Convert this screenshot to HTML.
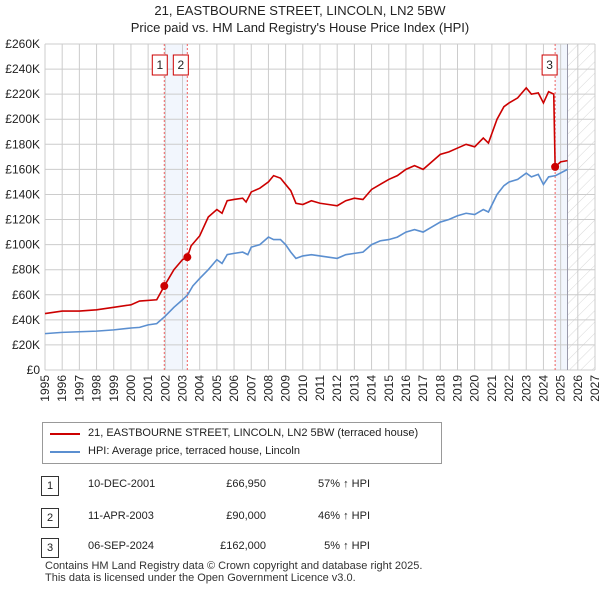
<!DOCTYPE html>
<html><head><meta charset="utf-8"><style>
body{margin:0;width:600px;height:590px;background:#fff;font-family:"Liberation Sans","DejaVu Sans",sans-serif;position:relative;overflow:hidden}
.t{position:absolute;font-size:12px;color:#222;white-space:nowrap}
</style></head><body>
<div class="t" style="left:0;width:600px;text-align:center;top:2px;font-size:13px;line-height:17px">21, EASTBOURNE STREET, LINCOLN, LN2 5BW<br>Price paid vs. HM Land Registry's House Price Index (HPI)</div>
<svg id="c" width="600" height="410" style="position:absolute;left:0;top:0"></svg>
<div style="position:absolute;left:42px;top:422px;width:398px;height:40px;border:1px solid #999"></div>
<svg width="600" height="590" style="position:absolute;left:0;top:0;pointer-events:none">
<line x1="50" y1="434" x2="80" y2="434" stroke="#cc0000" stroke-width="2"/>
<line x1="50" y1="452" x2="80" y2="452" stroke="#5b8fd0" stroke-width="2"/>
</svg>
<div class="t" style="left:88px;top:427px;font-size:11px">21, EASTBOURNE STREET, LINCOLN, LN2 5BW (terraced house)</div>
<div class="t" style="left:88px;top:445px;font-size:11px">HPI: Average price, terraced house, Lincoln</div>
<div id="tbl"></div>
<div class="t" style="left:45px;top:560px;font-size:11px;line-height:12px;color:#333">Contains HM Land Registry data © Crown copyright and database right 2025.<br>This data is licensed under the Open Government Licence v3.0.</div>
<script>
const hpiYears=[1995,1996,1997,1998,1999,2000,2000.5,2001,2001.5,2002,2002.5,2003,2003.3,2003.6,2004,2004.5,2005,2005.3,2005.6,2006,2006.5,2006.8,2007,2007.5,2008,2008.3,2008.7,2009,2009.3,2009.6,2010,2010.5,2011,2011.5,2012,2012.5,2013,2013.5,2014,2014.5,2015,2015.5,2016,2016.5,2017,2017.5,2018,2018.5,2019,2019.5,2020,2020.5,2020.8,2021.3,2021.7,2022,2022.5,2023,2023.3,2023.7,2024,2024.3,2024.7,2025.4];
const hpiValues=[29,30,30.5,31,32,33.5,34,36,37,43,50,56,60,67,73,80,88,85,92,93,94,92,98,100,106,104,104,100,94,89,91,92,91,90,89,92,93,94,100,103,104,106,110,112,110,114,118,120,123,125,124,128,126,140,147,150,152,157,154,156,148,154,155,160];
const priceYears=[1995,1996,1997,1998,1999,2000,2000.5,2001.5,2001.94,2002.5,2003,2003.28,2003.5,2004,2004.5,2005,2005.3,2005.6,2006,2006.5,2006.7,2007,2007.5,2008,2008.3,2008.7,2009,2009.3,2009.6,2010,2010.5,2011,2011.5,2012,2012.5,2013,2013.5,2014,2014.5,2015,2015.5,2016,2016.5,2017,2017.5,2018,2018.5,2019,2019.5,2020,2020.5,2020.8,2021.3,2021.7,2022,2022.5,2023,2023.3,2023.7,2024,2024.3,2024.6,2024.68,2025,2025.4];
const priceValues=[45,47,47,48,50,52,55,56,66.95,80,88,90,99,107,122,128,125,135,136,137,134,142,145,150,155,153,148,143,133,132,135,133,132,131,135,137,136,144,148,152,155,160,163,160,166,172,174,177,180,178,185,181,200,210,213,217,225,220,221,213,222,220,162,166,167];
const saleYears=[2001.94,2003.28,2024.68];
const saleValues=[66.95,90,162];
const saleLabels=["1","2","3"];
const saleDates=["10-DEC-2001","11-APR-2003","06-SEP-2024"];
const salePrices=["£66,950","£90,000","£162,000"];
const saleHpi=["57% ↑ HPI","46% ↑ HPI","5% ↑ HPI"];
const yTicks=[0,20,40,60,80,100,120,140,160,180,200,220,240,260];
const xTicks=[1995,1996,1997,1998,1999,2000,2001,2002,2003,2004,2005,2006,2007,2008,2009,2010,2011,2012,2013,2014,2015,2016,2017,2018,2019,2020,2021,2022,2023,2024,2025,2026,2027];
const X0=45,X1=595,Y0=370,Y1=44;
const xs=y=>X0+(y-1995)/(2027-1995)*(X1-X0);
const ys=v=>Y0-v/260*(Y0-Y1);
const NS="http://www.w3.org/2000/svg";
const svg=document.getElementById('c');
function mk(t,a,p){const e=document.createElementNS(NS,t);for(const k in a)e.setAttribute(k,a[k]);(p||svg).appendChild(e);return e;}
let defs=mk('defs',{});
let pat=mk('pattern',{id:'h',width:8,height:8,patternUnits:'userSpaceOnUse',patternTransform:'rotate(45)'},defs);
mk('line',{x1:0,y1:0,x2:0,y2:8,stroke:'#d8d8d8','stroke-width':1},pat);
let g=mk('g',{});


mk('rect',{x:xs(saleYears[0]),y:Y1,width:xs(saleYears[1])-xs(saleYears[0]),height:Y0-Y1,fill:'#f2f6fd'},g);
mk('rect',{x:xs(saleYears[2]),y:Y1,width:xs(2025.4)-xs(saleYears[2]),height:Y0-Y1,fill:'#f2f6fd'},g);
let hz=mk('rect',{x:xs(2025.4),y:Y1,width:X1-xs(2025.4),height:Y0-Y1,fill:'url(#h)'});


for(const v of yTicks){
 let l=mk('line',{x1:X0,x2:X1,y1:ys(v),y2:ys(v),stroke:'#ccc'});
 
 
 let t=mk('text',{x:X0-5,y:ys(v)+4,'text-anchor':'end','font-size':12,fill:'#222'});t.textContent='£'+(v?v+'K':'0');
 
 
}
for(const y of xTicks){
 let l=mk('line',{x1:xs(y),x2:xs(y),y1:Y1,y2:Y0,stroke:'#ccc'});
 
 
 let t=mk('text',{transform:`translate(${xs(y)+4},${Y0+5}) rotate(-90)`,'text-anchor':'end','font-size':12,fill:'#222'});t.textContent=y;
 
 
}
mk('line',{x1:xs(2025.4),x2:xs(2025.4),y1:Y1,y2:Y0,stroke:'#99a'});
saleYears.forEach((y,i)=>{
 let l=mk('line',{x1:xs(y),x2:xs(y),y1:Y1,y2:Y0,stroke:'#f06060','stroke-dasharray':'2,2'});
 
 
 let bx=i==2?xs(y)-13:(i==0?xs(y)-12:xs(y)-14);
 let r=mk('rect',{x:bx,y:55,width:15,height:20,fill:'#fff',stroke:'#cc0000'});
 
 
 let t=mk('text',{x:bx+7.5,y:69,'text-anchor':'middle','font-size':12,fill:'#222'});t.textContent=saleLabels[i];
});
function line(xa,va,col,name){
 let p=mk('polyline',{points:xa.map((x,i)=>xs(x)+','+ys(va[i])).join(' '),fill:'none',stroke:col,'stroke-width':1.6});
 
 
}
line(hpiYears,hpiValues,'#5b8fd0','hpi-line');
line(priceYears,priceValues,'#cc0000','price-line');
saleYears.forEach((y,i)=>{
 let c=mk('circle',{cx:xs(y),cy:ys(saleValues[i]),r:4,fill:'#cc0000'});
 
 
});
const tbl=document.getElementById('tbl');
const rowY=[484,516,546];
saleLabels.forEach((s,i)=>{
 const mkd=(html,style,name)=>{const d=document.createElement('div');d.className='t';d.style.cssText=style;d.textContent=html;
 
 
 tbl.appendChild(d);};
 mkd(s,`left:41px;top:${rowY[i]-8}px;width:16px;height:18px;border:1px solid #333;text-align:center;line-height:18px;font-size:11px`,'row-number');
 mkd(saleDates[i],`left:88px;top:${rowY[i]-6}px;font-size:11px`,'row-date');
 mkd(salePrices[i],`left:186px;width:80px;text-align:right;top:${rowY[i]-6}px;font-size:11px`,'row-price');
 mkd(saleHpi[i],`left:290px;width:80px;text-align:right;top:${rowY[i]-6}px;font-size:11px`,'row-hpi');
});
</script>
</body></html>
